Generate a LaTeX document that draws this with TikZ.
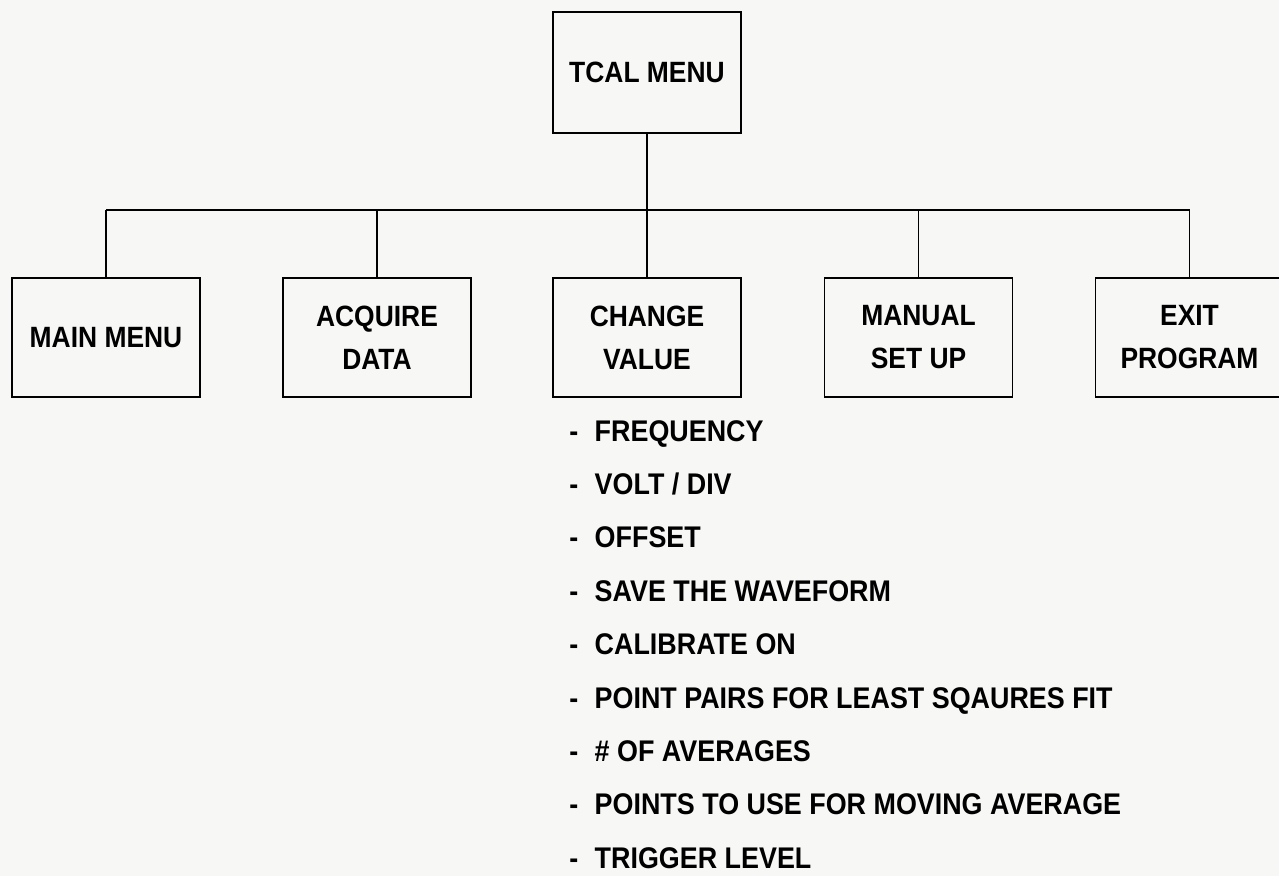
\documentclass[tikz,border=0pt]{standalone}
\usepackage{fontspec}
\setmainfont{Liberation Sans}[FakeStretch=0.9]
\usepackage{xcolor}
\usepackage{tikz}

\definecolor{paper}{RGB}{247,247,245}
\tikzset{
  menubox/.style={draw, line width=1pt, minimum width=3.76cm, minimum height=2.38cm, inner sep=0pt, align=center, font=\fontsize{16.7}{24.5}\selectfont\bfseries},
  itemtext/.style={anchor=base west, inner sep=0pt, font=\fontsize{17}{20}\selectfont\bfseries},
  link/.style={line width=0.8pt},
  bus/.style={line width=1.3pt},
}

\begin{document}
\begin{tikzpicture}
\fill[paper] (0, 0) rectangle (25.58, -17.52);
\useasboundingbox (0, 0) rectangle (25.58, -17.52);

\node[menubox, minimum height=2.42cm] (tcal) at (12.94, -1.45) {TCAL MENU};
\node[menubox] (main) at (2.12, -6.75) {MAIN MENU};
\node[menubox] (acquire) at (7.54, -6.75) {ACQUIRE\\DATA};
\node[menubox] (change) at (12.94, -6.75) {CHANGE\\VALUE};
\node[menubox] (manual) at (18.37, -6.75) {MANUAL\\SET UP};
\node[menubox] (exit) at (23.79, -6.75) {EXIT\\PROGRAM};

\coordinate (split) at (12.94, -4.2);
\draw[link] (tcal.south) -- (split);
\draw[bus] (split -| main.north) -- (split -| exit.north);
\foreach \child in {main, acquire, change, manual, exit}
  \draw[link] (split -| \child.north) -- (\child.north);

\foreach \txt [count=\i] in {FREQUENCY, VOLT / DIV, OFFSET, SAVE THE WAVEFORM, CALIBRATE ON, POINT PAIRS FOR LEAST SQAURES FIT, \# OF AVERAGES, POINTS TO USE FOR MOVING AVERAGE, TRIGGER LEVEL}
  \node[itemtext] (item\i) at (11.38, {-8.82-1.068*(\i-1)}) {-\hspace{0.55em}\txt};
\end{tikzpicture}
\end{document}
